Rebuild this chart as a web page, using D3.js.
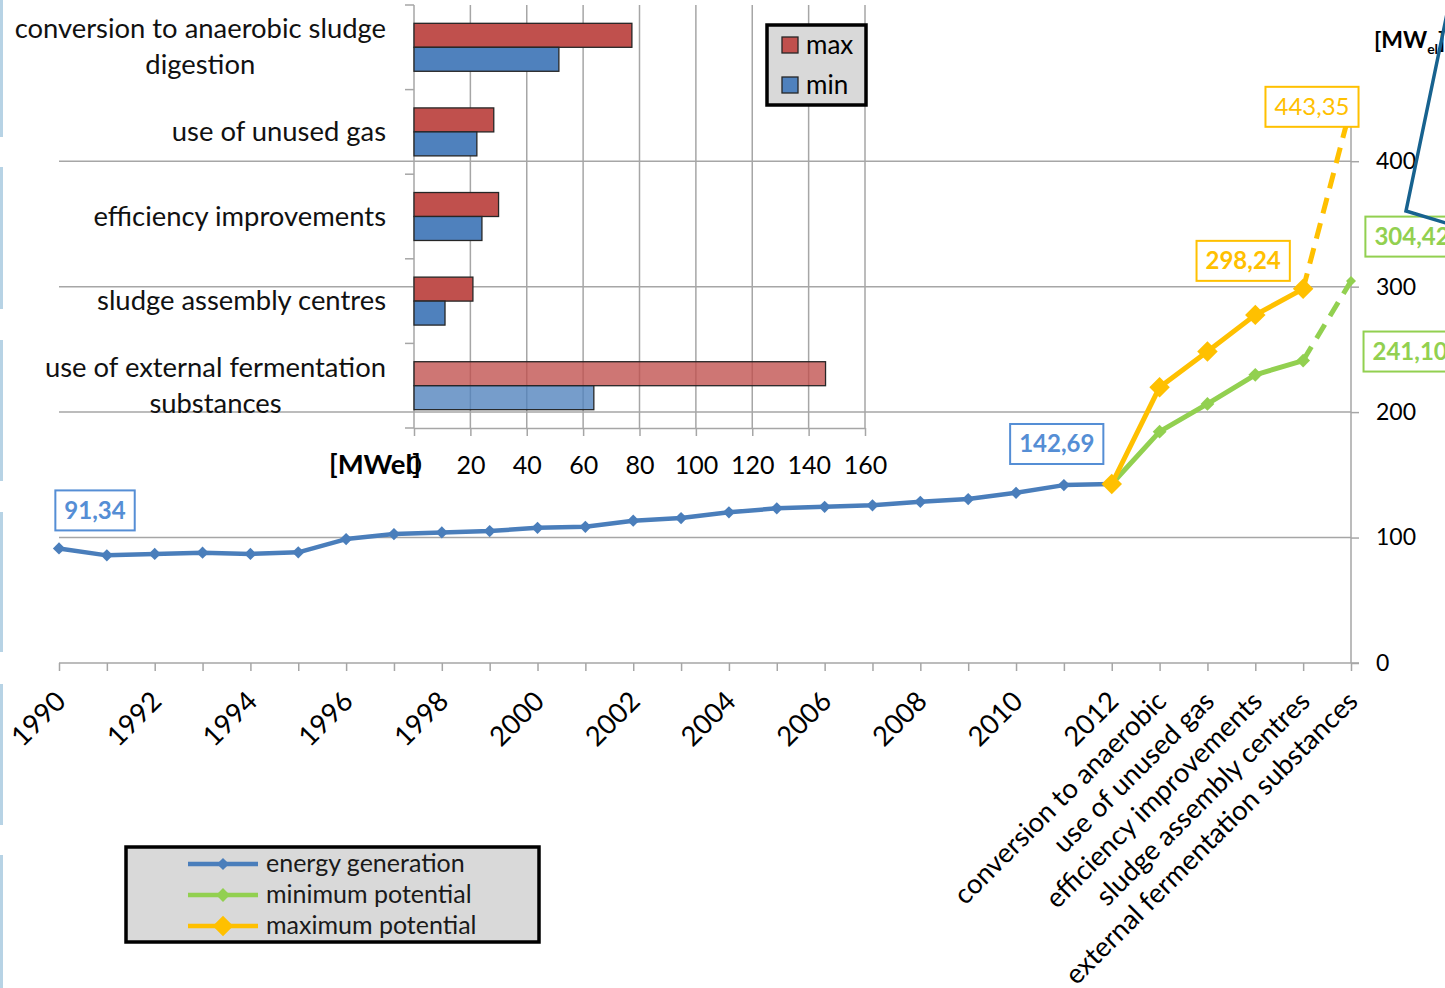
<!DOCTYPE html>
<html>
<head>
<meta charset="utf-8">
<script src="https://cdn.jsdelivr.net/npm/d3@7"></script>
<style>
  body { margin: 0; background: #fff; }
  svg { display: block; font-family: Lato, "Open Sans", sans-serif; }
</style>
</head>
<body>
<svg id="chart" width="1445" height="988"></svg>
<script>
// ---- Data -------------------------------------------------------------
const years = [1990, 1991, 1992, 1993, 1994, 1995, 1996, 1997, 1998, 1999, 2000,
               2001, 2002, 2003, 2004, 2005, 2006, 2007, 2008, 2009, 2010, 2011, 2012];
const measures = ["conversion to anaerobic", "use of unused gas", "efficiency improvements",
                  "sludge assembly centres", "external fermentation substances"];
// installed electrical capacity [MWel], 1990-2012
const energyGeneration = [91.34, 85.8, 86.9, 87.9, 86.9, 88.2, 98.8, 102.8, 104.1, 105.2, 107.8,
                          108.6, 113.4, 115.5, 120.1, 123.3, 124.5, 125.7, 128.5, 130.7, 135.7, 141.8, 142.69];
// cumulative potential, starting at 2012 and adding each measure
const minimumPotential = [142.69, 184.4, 206.5, 229.7, 241.10, 304.42];
const maximumPotential = [142.69, 219.9, 248.3, 277.5, 298.24, 443.35];
const yTicks = [0, 100, 200, 300, 400];

// potential of the single measures [MWel]
const measureNames = ["conversion to anaerobic sludge digestion", "use of unused gas",
                      "efficiency improvements", "sludge assembly centres",
                      "use of external fermentation substances"];
const measureMax = [77.3, 28.3, 30.0, 20.9, 146.0];
const measureMin = [51.4, 22.3, 24.1, 11.0, 63.8];
const insetTicks = [0, 20, 40, 60, 80, 100, 120, 140, 160];

// ---- Setup ------------------------------------------------------------
const svg = d3.select("#chart");
const BLUE = "#4a7ebb", BLUE_LBL = "#558ed5", GREEN = "#92d050", YELLOW = "#ffc000";
const GRID = "#a6a6a6";
const fmt = v => d3.format(".2f")(v).replace(".", ",");

// light blue page stripes on the left edge
[[0, 137], [167, 309], [340, 481], [512, 652], [684, 825], [855, 988]].forEach(([a, b]) =>
  svg.append("rect").attr("x", 0).attr("y", a).attr("width", 3).attr("height", b - a).attr("fill", "#b7d3e5"));

// ---- Main chart scales -------------------------------------------------
const mainCats = years.map(String).concat(measures);
const axisLabels = years.map(yr => (yr % 2 === 0 ? String(yr) : "")).concat(measures);
const x = d3.scalePoint().domain(mainCats).range([59, 1351]);
const y = d3.scaleLinear().domain([0, 400]).range([663, 161.2]);

// horizontal gridlines
svg.append("g").selectAll("line").data(yTicks.filter(t => t > 0)).join("line")
  .attr("x1", 59).attr("x2", 1351).attr("y1", d => y(d)).attr("y2", d => y(d))
  .attr("stroke", GRID).attr("stroke-width", 1.5);

// category axis
const xAxis = svg.append("g").attr("transform", `translate(0,${y(0)})`)
  .call(d3.axisBottom(x).tickSize(8).tickSizeOuter(0).tickFormat((d, i) => axisLabels[i]));
xAxis.select(".domain").remove();
xAxis.selectAll(".tick line").attr("stroke", GRID).attr("stroke-width", 1.5);
xAxis.selectAll(".tick text")
  .attr("x", null).attr("y", null).attr("dy", null)
  .attr("text-anchor", "end")
  .attr("transform", "translate(8,40) rotate(-45)")
  .attr("font-size", 27.4).attr("font-family", "Lato").attr("fill", "#000");
svg.append("line").attr("x1", 59).attr("x2", 1359).attr("y1", y(0)).attr("y2", y(0))
  .attr("stroke", GRID).attr("stroke-width", 1.5);

// value axis on the right
const yAxis = svg.append("g").attr("transform", `translate(${x(mainCats[mainCats.length - 1])},0)`)
  .call(d3.axisRight(y).tickValues(yTicks).tickSize(8).tickPadding(17));
yAxis.select(".domain").remove();
yAxis.selectAll(".tick line").attr("stroke", GRID).attr("stroke-width", 1.5);
yAxis.selectAll(".tick text").attr("font-size", 23).attr("font-family", "Lato").attr("fill", "#000");
svg.append("line").attr("x1", 1351).attr("x2", 1351).attr("y1", y(0)).attr("y2", y(450))
  .attr("stroke", GRID).attr("stroke-width", 1.5);

// ---- Inset bar chart -------------------------------------------------
const xi = d3.scaleLinear().domain([0, 160]).range([414, 865]);
const yi = d3.scaleBand().domain(measureNames).range([5, 428]).paddingInner(0.433).paddingOuter(0.2165);
const ys = d3.scaleBand().domain(["max", "min"]).range([0, yi.bandwidth()]);
const inset = svg.append("g");

inset.append("g").selectAll("line").data(insetTicks.filter(t => t > 0)).join("line")
  .attr("x1", d => xi(d)).attr("x2", d => xi(d)).attr("y1", 5).attr("y2", 428)
  .attr("stroke", GRID).attr("stroke-width", 1.5);

const xiAxis = inset.append("g").attr("transform", "translate(0,428)")
  .call(d3.axisBottom(xi).tickValues(insetTicks).tickSize(8).tickSizeOuter(0).tickPadding(20));
xiAxis.select(".domain").attr("stroke", GRID).attr("stroke-width", 1.5);
xiAxis.selectAll(".tick line").attr("stroke", GRID).attr("stroke-width", 1.5);
xiAxis.selectAll(".tick text").attr("font-size", 25).attr("font-family", "Lato").attr("fill", "#000");

inset.append("line").attr("x1", 414).attr("x2", 414).attr("y1", 5).attr("y2", 428)
  .attr("stroke", GRID).attr("stroke-width", 1.5);
inset.append("g").selectAll("line").data(d3.range(measureNames.length + 1)).join("line")
  .attr("x1", 405).attr("x2", 414)
  .attr("y1", i => 5 + i * yi.step()).attr("y2", i => 5 + i * yi.step())
  .attr("stroke", GRID).attr("stroke-width", 1.5);

inset.append("text").attr("x", 421).attr("y", 474).attr("text-anchor", "end")
  .attr("font-size", 27.5).attr("font-weight", "bold").text("[MWel]");

const barRows = measureNames.map((name, i) => ({ name, max: measureMax[i], min: measureMin[i], i }));
const lastRow = measureNames.length - 1;
[["max", "#c0504d"], ["min", "#4f81bd"]].forEach(([key, color]) => {
  inset.append("g").selectAll("rect").data(barRows).join("rect")
    .attr("x", xi(0)).attr("y", d => yi(d.name) + ys(key))
    .attr("width", d => xi(d[key]) - xi(0)).attr("height", ys.bandwidth())
    .attr("fill", color).attr("fill-opacity", d => (d.i === lastRow ? 0.78 : 1))
    .attr("stroke", "#262626").attr("stroke-width", 1.3);
});

// category labels, wrapped and right aligned
const LBL = 27.4;
const measure = svg.append("text").attr("font-size", LBL).attr("visibility", "hidden");
const textW = s => { measure.text(s); return measure.node().getComputedTextLength(); };
function wrap(str, maxW) {
  const words = str.split(" "), lines = [];
  let cur = "";
  words.forEach(w => {
    const t = cur ? cur + " " + w : w;
    if (cur && textW(t) > maxW) { lines.push(cur); cur = w; } else cur = t;
  });
  lines.push(cur);
  return lines;
}
measureNames.forEach(name => {
  const lines = wrap(name, 385);
  const wMax = d3.max(lines, textW);
  const cx = 386 - wMax / 2;
  const cy = yi(name) + yi.bandwidth() / 2;
  lines.forEach((ln, k) => {
    inset.append("text").attr("x", cx).attr("text-anchor", "middle")
      .attr("y", cy + 9 + (k - (lines.length - 1) / 2) * 36)
      .attr("font-size", LBL).attr("fill", "#111").text(ln);
  });
});
measure.remove();

// inset legend
const lg1 = inset.append("g");
lg1.append("rect").attr("x", 767).attr("y", 25).attr("width", 99).attr("height", 80)
  .attr("fill", "#d9d9d9").attr("stroke", "#000").attr("stroke-width", 3.5);
[["max", "#c0504d", 37], ["min", "#4f81bd", 77]].forEach(([t, c, yy]) => {
  lg1.append("rect").attr("x", 782).attr("y", yy).attr("width", 16).attr("height", 16)
    .attr("fill", c).attr("stroke", "#262626").attr("stroke-width", 1.3);
  lg1.append("text").attr("x", 806).attr("y", yy + 17).attr("font-size", 26).text(t);
});

// ---- Lines ------------------------------------------------------------
const diamond = size => d3.symbol(d3.symbolSquare, size)();
const energyPts = years.map((yr, i) => [x(String(yr)), y(energyGeneration[i])]);
const potCats = [String(years[years.length - 1])].concat(measures);
const minPts = potCats.map((c, i) => [x(c), y(minimumPotential[i])]);
const maxPts = potCats.map((c, i) => [x(c), y(maximumPotential[i])]);
const line = d3.line();

function series(pts, color, width, markerSize, lastMarker) {
  const g = svg.append("g");
  const solid = pts.slice(0, pts.length - 1);
  const dashed = pts.slice(pts.length - 2);
  g.append("path").attr("d", line(solid)).attr("fill", "none").attr("stroke", color)
    .attr("stroke-width", width).attr("stroke-linejoin", "round");
  g.append("path").attr("d", line(dashed)).attr("fill", "none").attr("stroke", color)
    .attr("stroke-width", width).attr("stroke-dasharray", "16,10");
  g.selectAll("path.m").data(solid).join("path").attr("class", "m")
    .attr("d", diamond(markerSize)).attr("fill", color)
    .attr("transform", d => `translate(${d[0]},${d[1]}) rotate(45)`);
  if (lastMarker) {
    const p = pts[pts.length - 1];
    g.append("path").attr("d", diamond(lastMarker)).attr("fill", color)
      .attr("transform", `translate(${p[0]},${p[1]}) rotate(45)`);
  }
}
// energy generation: solid line with small markers
svg.append("path").attr("d", line(energyPts)).attr("fill", "none").attr("stroke", BLUE)
  .attr("stroke-width", 4.5).attr("stroke-linejoin", "round");
svg.append("g").selectAll("path").data(energyPts).join("path")
  .attr("d", diamond(75)).attr("fill", BLUE)
  .attr("transform", d => `translate(${d[0]},${d[1]}) rotate(45)`);
series(minPts, GREEN, 5, 95, 50);
series(maxPts, YELLOW, 5, 210, 0);

// ---- Data labels ------------------------------------------------------
function dataLabel(px, py, value, color, dx, dy, bold) {
  const g = svg.append("g");
  const t = g.append("text").attr("x", px + dx).attr("y", py + dy + 8.5)
    .attr("text-anchor", "middle").attr("font-size", 24)
    .attr("font-weight", bold ? "bold" : "normal").attr("fill", color).text(fmt(value));
  const bb = t.node().getBBox();
  g.insert("rect", "text").attr("x", bb.x - 9).attr("y", py + dy - 20)
    .attr("width", bb.width + 18).attr("height", 40)
    .attr("fill", "#fff").attr("stroke", color).attr("stroke-width", 2);
}
const lastE = energyPts.length - 1, lastP = maxPts.length - 1;
dataLabel(energyPts[0][0], energyPts[0][1], energyGeneration[0], BLUE_LBL, 36, -38, true);
dataLabel(energyPts[lastE][0], energyPts[lastE][1], energyGeneration[lastE], BLUE_LBL, -55, -40, true);
dataLabel(maxPts[lastP - 1][0], maxPts[lastP - 1][1], maximumPotential[lastP - 1], YELLOW, -60, -28, true);
dataLabel(maxPts[lastP][0], maxPts[lastP][1], maximumPotential[lastP], YELLOW, -39, 0, false);
dataLabel(minPts[lastP][0], minPts[lastP][1], minimumPotential[lastP], GREEN, 61, -44.5, true);
dataLabel(minPts[lastP - 1][0], minPts[lastP - 1][1], minimumPotential[lastP - 1], GREEN, 107, -9, true);

// ---- Unit label and callout line -------------------------------------
const unit = svg.append("text").attr("x", 1374).attr("y", 48).attr("font-size", 23).attr("font-weight", "bold");
unit.append("tspan").text("[MW");
unit.append("tspan").attr("font-size", 14).attr("dy", 6).text("el");
unit.append("tspan").attr("dy", -6).text("]");
svg.append("path").attr("d", "M1449,4 L1406,211 L1449,224")
  .attr("fill", "none").attr("stroke", "#17628f").attr("stroke-width", 3.5);

// ---- Series legend ----------------------------------------------------
const lg2 = svg.append("g");
lg2.append("rect").attr("x", 126).attr("y", 847).attr("width", 413).attr("height", 95)
  .attr("fill", "#d9d9d9").attr("stroke", "#000").attr("stroke-width", 3.5);
[["energy generation", BLUE, 864, 75], ["minimum potential", GREEN, 895, 95], ["maximum potential", YELLOW, 926, 210]]
  .forEach(([t, c, yy, ms]) => {
    lg2.append("line").attr("x1", 188).attr("x2", 258).attr("y1", yy).attr("y2", yy)
      .attr("stroke", c).attr("stroke-width", 4.5);
    lg2.append("path").attr("d", diamond(ms)).attr("fill", c)
      .attr("transform", `translate(223,${yy}) rotate(45)`);
    lg2.append("text").attr("x", 266).attr("y", yy + 8).attr("font-size", 25).attr("fill", "#1a1a1a").text(t);
  });
</script>
</body>
</html>
